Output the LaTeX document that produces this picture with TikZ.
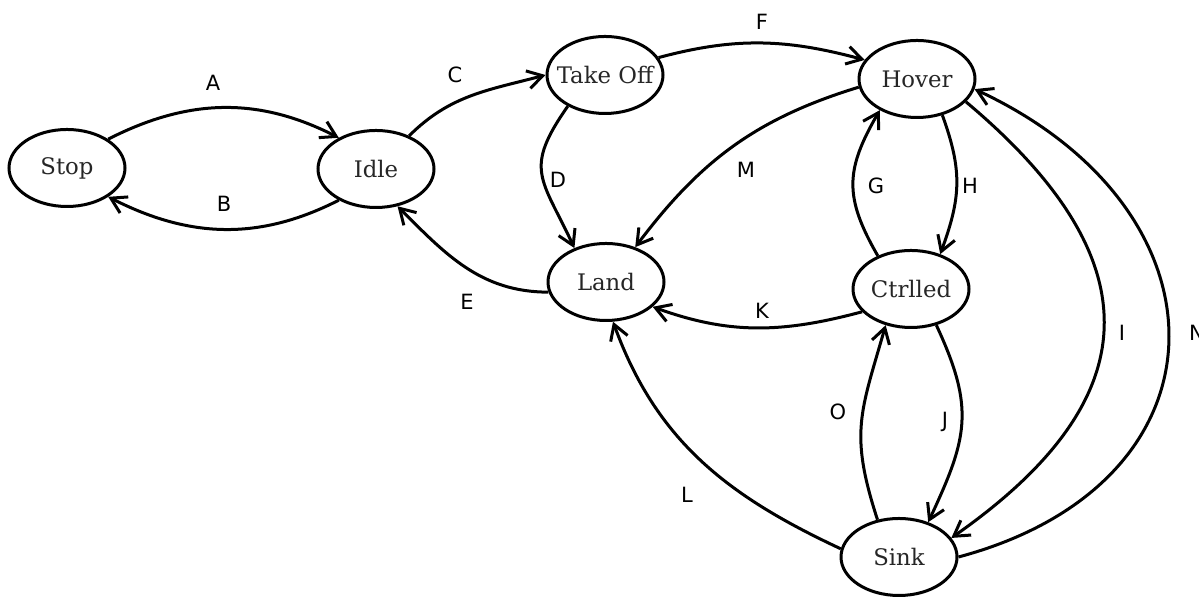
\documentclass[tikz,border=0pt]{standalone}
\usepackage{fontspec}
\setmainfont{DejaVu Serif}
\newfontfamily\lblfont{DejaVu Sans}
\usetikzlibrary{arrows.meta,shapes.geometric}
\newcommand\nbox[1]{\makebox[0pt]{#1}}
\begin{document}
\begin{tikzpicture}[x=0.5pt,y=0.5pt,
  state/.style={ellipse,draw,line width=1.5pt,minimum width=58pt,minimum height=38.5pt,inner sep=0pt,font=\fontsize{11.4}{13}\selectfont,text=black!85},
  tr/.style={line width=1.5pt,-{Straight Barb[length=7.5pt,width=9pt]}},
  lbl/.style={font={\lblfont\fontsize{10.5}{12}\selectfont},inner sep=0pt}]
\useasboundingbox (0,0) rectangle (1199,597);
% states
\node[state] (Stop) at (67,429) {\nbox{Stop}};
\node[state] (Idle) at (376,428) {\nbox{Idle}};
\node[state] (TakeOff) at (605,522) {\nbox{Take Off}};
\node[state] (Hover) at (917,518) {\nbox{Hover}};
\node[state] (Land) at (606,315) {\nbox{Land}};
\node[state] (Ctrlled) at (911,308) {\nbox{Ctrlled}};
\node[state] (Sink) at (899,40) {\nbox{Sink}};
% transitions
\draw[tr] (Stop.35) to[out=27,in=153] (Idle.140);
\draw[tr] (Idle.220) to[out=-153,in=-27] (Stop.-35);
\draw[tr] (Idle.45) to[out=45,in=195] (TakeOff.180);
\draw[tr] (TakeOff.220) to[out=235,in=115,looseness=1.4] (Land.133);
\draw[tr] (Land.190) to[out=180,in=-45] (Idle.-60);
\draw[tr] (TakeOff.18) to[out=15,in=165] (Hover.160);
\draw[tr] (Hover.188) to[out=197,in=53] (Land.50);
\draw[tr] (Ctrlled.135) to[out=120,in=-120,looseness=1.2] (Hover.220);
\draw[tr] (Hover.-55) to[out=-70,in=70,looseness=1.1] (Ctrlled.50);
\draw[tr] (Ctrlled.205) to[out=195,in=-20] (Land.-28);
\draw[tr] (Ctrlled.-55) to[out=-65,in=65,looseness=1.2] (Sink.50);
\draw[tr] (Sink.120) to[out=108,in=-106,looseness=1.2] (Ctrlled.-125);
\draw[tr] (Sink.172) to[out=155,in=-70] (Land.-80);
\draw[tr] (Hover.-25) to[out=-40,in=35,looseness=1.43] (Sink.20);
\draw[tr] (Sink.0) to[out=15,in=-25,looseness=1.57] (Hover.-10);
% labels
\node[lbl] (lA) at (213,514) {A};
\node[lbl] (lB) at (224,393) {B};
\node[lbl] (lC) at (455,522) {C};
\node[lbl] (lD) at (558,417) {D};
\node[lbl] (lE) at (467,295) {E};
\node[lbl] (lF) at (762,575) {F};
\node[lbl] (lG) at (876,411) {G};
\node[lbl] (lH) at (970,411) {H};
\node[lbl] (lI) at (1122,264) {I};
\node[lbl] (lJ) at (945,175) {J};
\node[lbl] (lK) at (762,286) {K};
\node[lbl] (lL) at (687,102) {L};
\node[lbl] (lM) at (746,427) {M};
\node[lbl] (lN) at (1197,264) {N};
\node[lbl] (lO) at (838,185) {O};
\end{tikzpicture}
\end{document}
